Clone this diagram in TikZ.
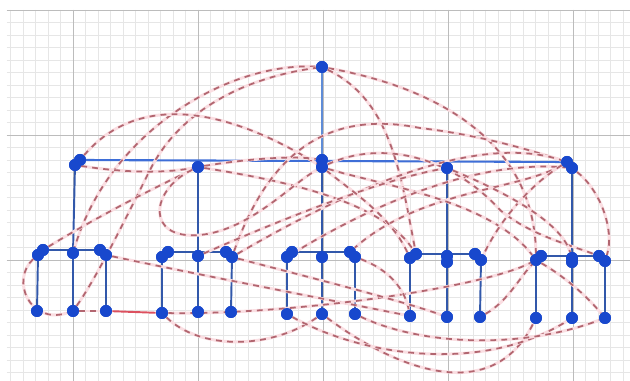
\documentclass[tikz,border=0pt]{standalone}
\definecolor{minorc}{RGB}{230,230,230}
\definecolor{majorc}{RGB}{188,188,188}
\definecolor{nodeb}{RGB}{24,72,205}
\definecolor{grpb}{RGB}{50,88,170}
\definecolor{topb}{RGB}{62,110,215}
\definecolor{rootb}{RGB}{95,140,215}
\definecolor{dashr}{RGB}{178,102,112}
\definecolor{haloc}{RGB}{250,222,226}
\definecolor{redl}{RGB}{220,80,95}
\begin{document}
\begin{tikzpicture}[x=0.02cm,y=-0.02cm,
  minorgrid/.style={draw=minorc,line width=0.45pt},
  majorgrid/.style={draw=majorc,line width=0.55pt},
  vtx/.style={circle,fill=nodeb,inner sep=0pt,minimum size=0.24cm},
  bl/.style={draw=grpb,line width=1.1pt},
  topline/.style={draw=topb,line width=1.2pt},
  rootline/.style={draw=rootb,line width=1.1pt},
  dl/.style={draw=dashr,line width=1pt,dash pattern=on 3.3pt off 3pt,
     preaction={draw=haloc,line width=1.7pt,solid}},
  redline/.style={draw=redl,line width=1.1pt}]
\useasboundingbox (0,0) rectangle (630,381);
\fill[white] (0,0) rectangle (630,381);
% grid
\foreach \i in {0,...,49} {\draw[minorgrid] ({10.5+12.5*\i},10) -- ({10.5+12.5*\i},381);}
\foreach \j in {0,...,29} {\draw[minorgrid] (7,{10+12.5*\j}) -- (630,{10+12.5*\j});}
\foreach \x in {73,198,323,448,573} {\draw[majorgrid] (\x,10) -- (\x,381);}
\foreach \y in {10,135,260} {\draw[majorgrid] (7,\y) -- (630,\y);}
% nodes
\node[vtx] (R) at (322,67) {};
\node[vtx] (A1) at (75,165) {};
\node[vtx] (A2) at (80,160) {};
\node[vtx] (B) at (198,167) {};
\node[vtx] (C1) at (322,160) {};
\node[vtx] (C2) at (322,167) {};
\node[vtx] (D) at (447,168) {};
\node[vtx] (E1) at (567,162) {};
\node[vtx] (E2) at (572,168) {};
% group 1
\node[vtx] (g1la) at (38,255) {};
\node[vtx] (g1lb) at (43,250) {};
\node[vtx] (g1c) at (73,253) {};
\node[vtx] (g1ra) at (100,250) {};
\node[vtx] (g1rb) at (106,255) {};
\node[vtx] (g1bl) at (37,311) {};
\node[vtx] (g1bc) at (73,311) {};
\node[vtx] (g1br) at (106,311) {};
% group 2
\node[vtx] (g2la) at (162,257) {};
\node[vtx] (g2lb) at (168,252) {};
\node[vtx] (g2c) at (198,256) {};
\node[vtx] (g2ra) at (226,252) {};
\node[vtx] (g2rb) at (232,257) {};
\node[vtx] (g2bl) at (162,313) {};
\node[vtx] (g2bc) at (198,312) {};
\node[vtx] (g2br) at (231,312) {};
% group 3
\node[vtx] (g3la) at (287,257) {};
\node[vtx] (g3lb) at (292,252) {};
\node[vtx] (g3c) at (322,257) {};
\node[vtx] (g3ra) at (350,252) {};
\node[vtx] (g3rb) at (355,257) {};
\node[vtx] (g3bl) at (287,314) {};
\node[vtx] (g3bc) at (322,314) {};
\node[vtx] (g3br) at (355,314) {};
% group 4
\node[vtx] (g4la) at (410,258) {};
\node[vtx] (g4lb) at (416,254) {};
\node[vtx] (g4c) at (447,256) {};
\node[vtx] (g4cc) at (447,262) {};
\node[vtx] (g4ra) at (475,254) {};
\node[vtx] (g4rb) at (481,260) {};
\node[vtx] (g4bl) at (410,316) {};
\node[vtx] (g4bc) at (447,317) {};
\node[vtx] (g4br) at (480,317) {};
% group 5
\node[vtx] (g5la) at (536,260) {};
\node[vtx] (g5lb) at (541,256) {};
\node[vtx] (g5c) at (572,258) {};
\node[vtx] (g5cc) at (572,262) {};
\node[vtx] (g5ra) at (599,256) {};
\node[vtx] (g5rb) at (605,261) {};
\node[vtx] (g5bl) at (536,318) {};
\node[vtx] (g5bc) at (572,318) {};
\node[vtx] (g5br) at (605,318) {};
% blue tree lines
\draw[rootline] (R.center) -- (C1.center);
\draw[topline] (A2.center) -- (E1.center);
\draw[bl] (A1.center) -- (g1c.center);
\draw[bl] (B.center) -- (g2c.center);
\draw[bl] (C2.center) -- (g3c.center);
\draw[bl] (D.center) -- (g4c.center);
\draw[bl] (E2.center) -- (g5c.center);
\foreach \g in {g1,g2,g3} {
  \draw[bl] (\g lb.center) -- (\g ra.center);
  \draw[bl] (\g la.center) -- (\g bl.center);
  \draw[bl] (\g c.center) -- (\g bc.center);
  \draw[bl] (\g rb.center) -- (\g br.center);
}
\foreach \g in {g4,g5} {
  \draw[bl] (\g lb.center) -- (\g ra.center);
  \draw[bl] (\g la.center) -- (\g bl.center);
  \draw[bl] (\g cc.center) -- (\g bc.center);
  \draw[bl] (\g rb.center) -- (\g br.center);
}
% dashed connectors
\draw[dl] (R) .. controls (230,62) and (110,130) .. (g1c);
\draw[dl] (g1bc) .. controls (95,280) and (120,230) .. (150,170) .. controls (175,120) and (230,80) .. (R);
\draw[dl] (A2) .. controls (140,90) and (230,110) .. (C2);
\draw[dl] (g1lb) .. controls (100,215) and (160,185) .. (B);
\draw[dl] (A1) .. controls (120,172) and (160,174) .. (B);
\draw[dl] (B) .. controls (240,160) and (290,155) .. (C1);
\draw[dl] (B) .. controls (280,180) and (380,200) .. (g4lb);
\draw[dl] (R) .. controls (450,90) and (535,150) .. (g5la);
\draw[dl] (R) .. controls (390,100) and (400,170) .. (g4lb);
\draw[dl] (g2rb) .. controls (270,150) and (330,110) .. (420,128) .. controls (480,135) and (530,150) .. (E1);
\draw[dl] (C2) .. controls (380,140) and (450,155) .. (500,210) .. controls (530,235) and (570,245) .. (g5ra);
\draw[dl] (E2) .. controls (600,190) and (615,230) .. (g5rb);
\draw[dl] (E1) .. controls (520,190) and (420,190) .. (g3ra);
\draw[dl] (g1la) .. controls (10,280) and (30,325) .. (g1bc);
\draw[dl] (g1bc) -- (g1br);
\draw[redline] (g1br) -- (g2bl);
\draw[dl] (g1rb) .. controls (200,275) and (330,300) .. (g4bl);
\draw[dl] (B) .. controls (150,190) and (145,240) .. (200,235) .. controls (250,230) and (290,185) .. (C2);
\draw[dl] (g2bl) .. controls (200,350) and (270,350) .. (g3bc);
\draw[dl] (g3bc) .. controls (390,365) and (490,410) .. (g5bl);
\draw[dl] (g3bl) .. controls (360,355) and (480,375) .. (g5bc);
\draw[dl] (g2rb) .. controls (330,200) and (470,130) .. (E1);
\draw[dl] (C2) .. controls (380,185) and (490,200) .. (g5la);
\draw[dl] (g3la) .. controls (380,200) and (480,160) .. (E2);
\draw[dl] (g2c) .. controls (280,220) and (380,180) .. (D);
\draw[dl] (g2bl) .. controls (300,315) and (500,285) .. (g5lb);
\draw[dl] (g3rb) .. controls (390,270) and (405,290) .. (g4bl);
\draw[dl] (g4br) .. controls (510,300) and (520,275) .. (g5lb);
\draw[dl] (g5la) .. controls (570,280) and (590,300) .. (g5br);
\draw[dl] (g2rb) .. controls (300,275) and (400,300) .. (g4bc);
\draw[dl] (E1) .. controls (530,185) and (500,220) .. (g4rb);
\draw[dl] (D) .. controls (500,190) and (560,220) .. (g5c);
\draw[dl] (g3br) .. controls (420,345) and (520,350) .. (g5br);
\draw[dl] (g4la) .. controls (390,215) and (350,190) .. (C2);
% nodes on top again
\foreach \n in {R,A1,A2,B,C1,C2,D,E1,E2,g4cc,g5cc} {\fill[nodeb] (\n.center) circle (0.12cm);}
\foreach \g in {g1,g2,g3,g4,g5} {\foreach \s in {la,lb,c,ra,rb,bl,bc,br} {\fill[nodeb] (\g\s.center) circle (0.12cm);}}
\end{tikzpicture}
\end{document}
